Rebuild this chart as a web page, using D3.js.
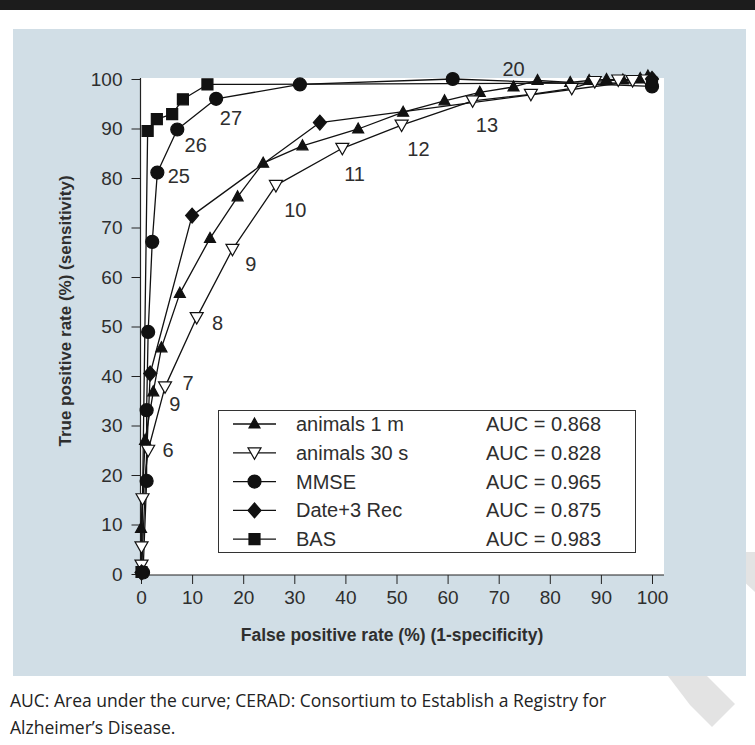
<!DOCTYPE html>
<html>
<head>
<meta charset="utf-8">
<script src="https://cdn.jsdelivr.net/npm/d3@7"></script>
<style>
  body { margin: 0; background: #fff; }
  svg { display: block; }
</style>
</head>
<body>
<div id="chart"></div>
<script>
// ROC curves, values (x = false positive %, y = true positive %)
var animals1m = [[0, 0], [0, 9.2], [0.8, 27], [2.4, 36.8], [4, 45.7], [7.6, 56.7], [13.5, 67.8],
  [18.9, 76.2], [23.9, 83], [31.6, 86.5], [42.5, 89.9], [51.3, 93.3], [59.4, 95.6], [66.3, 97.3],
  [72.9, 98.4], [77.6, 99.7], [84, 99.3], [87.7, 99.7], [91.1, 99.9], [94.3, 99.8], [97.7, 100.1], [99.2, 100.6]];
var animals30s = [[0.1, 1.8], [0.1, 5.5], [0.3, 15.2], [1.4, 25], [4.7, 37.8], [10.9, 51.8],
  [17.9, 65.6], [26.4, 78.5], [39.4, 86], [51, 90.7], [64.9, 95.6], [76.3, 96.9], [84.3, 98.1],
  [88.8, 99.5], [93.4, 99.8], [96.2, 99.7], [99, 99.8]];
var mmse = [[0.4, 0.3], [1.1, 18.8], [1.1, 33.1], [1.4, 48.9], [2.2, 67.1], [3.2, 81.1], [7.1, 89.8],
  [14.7, 96], [31.1, 98.9], [61, 100], [100, 98.5]];
var dateRec = [[0.1, 0.3], [1.8, 40.5], [10, 72.4], [35, 91.2], [100, 100]];
var bas = [[0.1, 0.4], [1.3, 89.5], [3.1, 91.9], [6.1, 92.9], [8.2, 95.9], [13, 98.9], [100, 99.2]];

var seriesNames = ["animals 1 m", "animals 30 s", "MMSE", "Date+3 Rec", "BAS"];
var aucLabels = ["AUC = 0.868", "AUC = 0.828", "AUC = 0.965", "AUC = 0.875", "AUC = 0.983"];
var markerTypes = ["triUp", "triDown", "circle", "diamond", "square"];

// cut-off score labels beside points: [x, y, text]
var pointLabels = [[5.3, 25, "6"], [9.2, 38.5, "7"], [6.6, 34.3, "9"], [15, 50.8, "8"], [21.5, 62.6, "9"],
  [30.2, 73.6, "10"], [41.8, 80.8, "11"], [54.3, 85.8, "12"], [67.7, 90.7, "13"], [72.9, 102, "20"],
  [7.4, 80.4, "25"], [10.7, 86.7, "26"], [17.6, 92.2, "27"]];

var xTicks = d3.range(0, 101, 10);
var yTicks = d3.range(0, 101, 10);

var W = 755, H = 745;

var svg = d3.select("#chart")
  .append("svg")
  .attr("width", W)
  .attr("height", H);

// top dark strip and the light panel
svg.append("rect").attr("x", 0).attr("y", 0).attr("width", W).attr("height", 10).attr("fill", "#1c1c1c");

// watermark shapes
svg.append("polygon")
  .attr("points", "668,676 707,676 735,704 712,727 690,705")
  .attr("fill", "#e3e3e3");
svg.append("polygon")
  .attr("points", "740,552 755,552 755,592 740,578")
  .attr("fill", "#e3e3e3");

svg.append("rect").attr("x", 13).attr("y", 29).attr("width", 733).attr("height", 647).attr("fill", "#d1dee6");

// plot area
var xScale = d3.scaleLinear().domain([0, 100]).range([141, 652]);
var yScale = d3.scaleLinear().domain([0, 100]).range([574, 79]);

svg.append("rect")
  .attr("x", 140).attr("y", 78)
  .attr("width", 524).attr("height", 497)
  .attr("fill", "#fff");

var fontMain = "'Liberation Sans', Arial, Helvetica, sans-serif";
var textCol = "#2e2e2e";

// X axis
var gx = svg.append("g")
  .attr("transform", "translate(0,575)")
  .call(d3.axisBottom(xScale).tickValues(xTicks).tickSize(9).tickPadding(7).tickSizeOuter(0));
gx.select(".domain").remove();
gx.selectAll("text").style("font-family", fontMain).style("font-size", "19px").attr("fill", textCol);
gx.selectAll("line").attr("stroke", "#222");

// Y axis
var gy = svg.append("g")
  .attr("transform", "translate(140.5,0)")
  .call(d3.axisLeft(yScale).tickValues(yTicks).tickSize(9).tickPadding(9).tickSizeOuter(0));
gy.select(".domain").remove();
gy.selectAll("text").style("font-family", fontMain).style("font-size", "19px").attr("fill", textCol);
gy.selectAll("line").attr("stroke", "#222");

// axis lines
svg.append("line").attr("x1", 140.5).attr("x2", 140.5).attr("y1", 78).attr("y2", 575.5)
  .attr("stroke", "#222").attr("stroke-width", 1.2);
svg.append("line").attr("x1", 140).attr("x2", 664).attr("y1", 575).attr("y2", 575)
  .attr("stroke", "#222").attr("stroke-width", 1.2);

// axis titles
svg.append("text")
  .attr("x", 392).attr("y", 641)
  .attr("text-anchor", "middle")
  .style("font-family", fontMain).style("font-size", "17.5px").style("font-weight", "bold")
  .attr("fill", textCol)
  .text("False positive rate (%) (1-specificity)");

svg.append("text")
  .attr("transform", "translate(71,311)rotate(-90)")
  .attr("text-anchor", "middle")
  .style("font-family", fontMain).style("font-size", "17px").style("font-weight", "bold")
  .attr("fill", textCol)
  .text("True positive rate (%) (sensitivity)");

// marker path builder
function markerPath(type) {
  var p = d3.path();
  if (type === "triUp") {
    p.moveTo(0, -6); p.lineTo(5.5, 4); p.lineTo(-5.5, 4); p.closePath();
  } else if (type === "triDown") {
    p.moveTo(-6.5, -5); p.lineTo(6.5, -5); p.lineTo(0, 6.5); p.closePath();
  } else if (type === "circle") {
    p.arc(0, 0, 6.5, 0, 2 * Math.PI);
  } else if (type === "diamond") {
    p.moveTo(0, -7.5); p.lineTo(6.5, 0); p.lineTo(0, 7.5); p.lineTo(-6.5, 0); p.closePath();
  } else {
    p.rect(-5.5, -5.5, 11, 11);
  }
  return p.toString();
}

var allSeries = [animals1m, animals30s, mmse, dateRec, bas];

var line = d3.line()
  .x(function(d) { return xScale(d[0]); })
  .y(function(d) { return yScale(d[1]); });

allSeries.forEach(function(data, i) {
  svg.append("path")
    .datum(data)
    .attr("d", line)
    .attr("fill", "none")
    .attr("stroke", "#111")
    .attr("stroke-width", 1.3)
    .attr("stroke-linejoin", "round");
});

allSeries.forEach(function(data, i) {
  var pts = (i === 0) ? data.slice(1) : data;
  svg.selectAll(".m" + i)
    .data(pts)
    .enter()
    .append("path")
    .attr("class", "m" + i)
    .attr("transform", function(d) { return "translate(" + xScale(d[0]) + "," + yScale(d[1]) + ")"; })
    .attr("d", markerPath(markerTypes[i]))
    .attr("fill", markerTypes[i] === "triDown" ? "#fff" : "#111")
    .attr("stroke", "#111")
    .attr("stroke-width", 1.2);
});

// point labels
svg.selectAll(".plabel")
  .data(pointLabels)
  .enter()
  .append("text")
  .attr("class", "plabel")
  .attr("x", function(d) { return xScale(d[0]); })
  .attr("y", function(d) { return yScale(d[1]); })
  .attr("text-anchor", "middle")
  .attr("dy", "0.35em")
  .style("font-family", fontMain).style("font-size", "20px")
  .attr("fill", textCol)
  .text(function(d) { return d[2]; });

// legend
var legend = svg.append("g");
legend.append("rect")
  .attr("x", 218.5).attr("y", 410.5)
  .attr("width", 417).attr("height", 142)
  .attr("fill", "#fff").attr("stroke", "#333").attr("stroke-width", 1);

seriesNames.forEach(function(name, i) {
  var yy = 424 + i * 28.8;
  legend.append("line")
    .attr("x1", 233).attr("x2", 276).attr("y1", yy).attr("y2", yy)
    .attr("stroke", "#111").attr("stroke-width", 1.3);
  legend.append("path")
    .attr("transform", "translate(254.5," + yy + ")")
    .attr("d", markerPath(markerTypes[i]))
    .attr("fill", markerTypes[i] === "triDown" ? "#fff" : "#111")
    .attr("stroke", "#111").attr("stroke-width", 1.2);
  legend.append("text")
    .attr("x", 296).attr("y", yy).attr("dy", "0.35em")
    .style("font-family", fontMain).style("font-size", "20px")
    .attr("fill", textCol)
    .text(name);
  legend.append("text")
    .attr("x", 486).attr("y", yy).attr("dy", "0.35em")
    .style("font-family", fontMain).style("font-size", "20px")
    .attr("fill", textCol)
    .text(aucLabels[i]);
});

// caption
var capFont = "'Open Sans', 'Noto Sans', sans-serif";
svg.append("text")
  .attr("x", 10).attr("y", 707)
  .style("font-family", capFont).style("font-size", "17.5px")
  .attr("fill", "#222")
  .text("AUC: Area under the curve; CERAD: Consortium to Establish a Registry for");
svg.append("text")
  .attr("x", 10).attr("y", 734)
  .style("font-family", capFont).style("font-size", "17.5px")
  .attr("fill", "#222")
  .text("Alzheimer\u2019s Disease.");
</script>
</body>
</html>
